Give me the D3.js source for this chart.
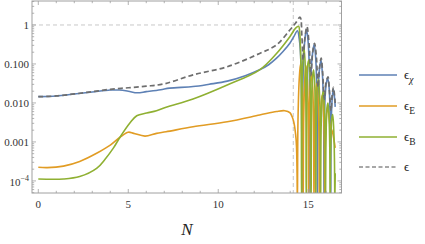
<!DOCTYPE html>
<html><head><meta charset="utf-8">
<script src="https://cdn.jsdelivr.net/npm/d3@7"></script>
<style>body{margin:0;background:#fff}svg{display:block}</style>
</head><body>
<svg id="c" width="425" height="244"></svg>
<script>
// ---- data ----
const chiN = [0,1,2,3,4,4.5,5,5.5,6,6.8,7.3,8.6,9.5,10.5,11.5,12.3,12.8,13.24,13.6,13.98,14.2,14.4,
  14.5,14.6,14.66,14.72,14.82,14.9,14.98,15.06,15.1,15.15,15.25,15.33,15.41,15.48,15.51,15.55,15.63,15.71,15.78,15.85,15.88,15.91,15.99,16.08,16.16,16.22,16.25,16.28,16.34,16.4,16.46,16.5];
const chiV = [0.0145,0.0151,0.0170,0.0191,0.0214,0.0214,0.0200,0.0182,0.0195,0.0219,0.0240,0.0263,0.0302,0.0363,0.0501,0.0708,0.0955,0.141,0.209,0.339,0.501,0.708,
  0.447,0.1,2.5e-5,0.0631,0.447,0.759,0.447,0.0794,2.5e-5,0.0501,0.2,0.316,0.158,0.02,2.5e-5,0.0158,0.0794,0.126,0.0631,0.00794,2.5e-5,0.00631,0.0282,0.0437,0.0251,0.00398,2.5e-5,0.00316,0.0141,0.0224,0.0141,0.00794];

const eN = [0,0.5,1.4,2.3,3.24,4.0,4.54,5.0,5.3,5.93,6.57,7.1,8.6,10.5,12.3,13.24,13.7,13.98,14.17,14.3,14.35,14.38,14.4,
  14.43,14.5,14.57,14.64,14.7,14.72,14.75,14.82,14.88,14.95,15.0,15.02,15.05,15.12,15.18,15.25,15.3,15.32,15.35,15.42,15.48,15.55,15.6,15.62,15.65,15.72,15.78,15.85,15.9,15.92,15.95,16.02,16.08,16.15,16.22,16.35,16.45,16.5];
const eV = [2.24e-4,2.19e-4,2.40e-4,3.16e-4,5.13e-4,8.32e-4,1.32e-3,1.78e-3,1.66e-3,1.41e-3,1.66e-3,1.82e-3,2.45e-3,3.31e-3,4.90e-3,6.03e-3,6.31e-3,5.62e-3,3.63e-3,1.58e-3,7.59e-4,1.58e-4,2.5e-5,
  3.16e-3,0.0398,0.1,0.0501,0.00398,2.5e-5,0.00398,0.0501,0.0891,0.0398,0.00316,2.5e-5,0.00316,0.0316,0.0562,0.0251,0.002,2.5e-5,0.002,0.02,0.0316,0.0126,0.00126,2.5e-5,0.00126,0.01,0.0158,0.00631,7.94e-4,2.5e-5,7.94e-4,0.00501,0.00794,0.00501,0.00251,0.00178,0.001,7.08e-4];

const bN = [0,1.4,2.3,3.24,3.7,4.17,4.54,5.1,5.47,6.02,6.57,7.1,8.6,10.5,12.3,13.24,13.98,14.3,14.47,
  14.52,14.57,14.61,14.63,14.66,14.72,14.77,14.83,14.87,14.89,14.92,14.98,15.04,15.1,15.14,15.16,15.19,15.25,15.3,15.36,15.4,15.42,15.45,15.52,15.57,15.63,15.67,15.69,15.72,15.79,15.84,15.9,15.94,15.96,15.99,16.05,16.1,16.16,16.2,16.22,16.25,16.31,16.36,16.42,16.46,16.48,16.5];
const bV = [1.12e-4,1.12e-4,1.29e-4,2.09e-4,3.55e-4,6.92e-4,1.32e-3,3.09e-3,4.68e-3,5.50e-3,6.31e-3,7.76e-3,0.0126,0.0288,0.0708,0.186,0.501,0.832,0.92,
  0.708,0.251,0.0316,2.5e-5,0.0316,0.158,0.251,0.1,0.01,2.5e-5,0.01,0.1,0.126,0.0501,0.00631,2.5e-5,0.00631,0.0501,0.0708,0.0316,0.00398,2.5e-5,0.00398,0.0316,0.0398,0.0158,0.00251,2.5e-5,0.00251,0.0158,0.02,0.00794,0.00126,2.5e-5,0.00126,0.00794,0.01,0.00398,6.31e-4,2.5e-5,6.31e-4,0.00398,0.00501,0.002,3.16e-4,2.5e-5,1.58e-4];

const totN = [0,1,2,3,4,5,6,7,8.6,10.5,12.3,13.24,13.98,14.3,14.55,
  14.65,14.72,14.8,14.93,15.05,15.15,15.25,15.35,15.45,15.55,15.63,15.72,15.8,15.9,15.98,16.1,16.18,16.27,16.33,16.4,16.45,16.5];
const totV = [0.0145,0.0151,0.0170,0.0195,0.0224,0.0245,0.0269,0.0309,0.0525,0.0851,0.186,0.309,0.741,1.12,1.58,
  0.501,0.126,0.398,0.912,0.316,0.0501,0.2,0.339,0.158,0.0251,0.0794,0.141,0.0631,0.0126,0.0316,0.0468,0.02,0.00631,0.0158,0.0251,0.0178,0.01];

const xTicks = [0,5,10,15];
const yTicks = [1e-4,1e-3,1e-2,1e-1,1];
const yTickLabels = ["10","0.001","0.010","0.100","1"];
const seriesNames = ["χ","E","B",""];
const seriesColors = ["#5E81B5","#E19C24","#8FB032","#6e6e6e"];
const refLineY = 1;
const refLineN = 14.17;

// ---- layout ----
const svg = d3.select("#c");
const L = 32, R = 341.5, T = 1, B = 193;
const x = d3.scaleLinear().domain([-0.35, 16.85]).range([L, R]);
const y = d3.scaleLog().domain([4.12, 4.9e-5]).range([T, B]);
const frameCol = "#a0a0a0";

svg.append("defs").append("clipPath").attr("id","clip")
  .append("rect").attr("x",L).attr("y",T).attr("width",R-L).attr("height",B-T);

// reference dashed lines
svg.append("line").attr("x1",L).attr("x2",R).attr("y1",y(refLineY)).attr("y2",y(refLineY))
  .attr("stroke","#c8c8c8").attr("stroke-width",1).attr("stroke-dasharray","4,3");
svg.append("line").attr("x1",x(refLineN)).attr("x2",x(refLineN)).attr("y1",T).attr("y2",B)
  .attr("stroke","#c8c8c8").attr("stroke-width",1).attr("stroke-dasharray","4,3");

// series
const line = d3.line().x(d=>x(d[0])).y(d=>y(d[1])).curve(d3.curveCatmullRom.alpha(0.5));
const g = svg.append("g").attr("clip-path","url(#clip)");
const series = [[chiN,chiV],[eN,eV],[bN,bV],[totN,totV]];
series.forEach((s,i)=>{
  const pts = s[0].map((n,k)=>[n,s[1][k]]);
  g.append("path").attr("d",line(pts)).attr("fill","none")
    .attr("stroke",seriesColors[i]).attr("stroke-width",i===3?1.7:1.6)
    .attr("stroke-dasharray",i===3?"5,3":null).attr("stroke-linejoin","round");
});

// frame
svg.append("rect").attr("x",L).attr("y",T).attr("width",R-L).attr("height",B-T)
  .attr("fill","none").attr("stroke",frameCol).attr("stroke-width",1);

// ticks
const tk = svg.append("g").attr("stroke",frameCol).attr("stroke-width",0.8);
d3.range(0,17).forEach(n=>{
  const len = xTicks.includes(n)?4:2.2;
  tk.append("line").attr("x1",x(n)).attr("x2",x(n)).attr("y1",B).attr("y2",B-len);
  tk.append("line").attr("x1",x(n)).attr("x2",x(n)).attr("y1",T).attr("y2",T+len);
});
[1e-5,1e-4,1e-3,1e-2,1e-1,1].forEach(dec=>{
  for(let m=1;m<10;m++){
    const v = dec*m;
    const yy = y(v);
    if(yy<T||yy>B) continue;
    const len = m===1?4:2.2;
    tk.append("line").attr("x1",L).attr("x2",L+len).attr("y1",yy).attr("y2",yy);
    tk.append("line").attr("x1",R).attr("x2",R-len).attr("y1",yy).attr("y2",yy);
  }
});

// tick labels
const font = "Liberation Serif, DejaVu Serif, serif";
const lab = svg.append("g").attr("font-family",font).attr("font-size",11).attr("fill","#333");
xTicks.forEach(n=>{
  lab.append("text").attr("x",x(n)).attr("y",208).attr("text-anchor","middle").text(n);
});
yTicks.forEach((v,i)=>{
  const t = lab.append("text").attr("x",29).attr("y",y(v)+4).attr("text-anchor","end");
  if(i===0){
    t.append("tspan").text(yTickLabels[i]);
    t.append("tspan").attr("dy",-5).attr("font-size",8).text("−4");
    t.attr("y",y(v)+5);
  } else t.text(yTickLabels[i]);
});

// axis label
svg.append("text").attr("x",187).attr("y",235).attr("text-anchor","middle")
  .attr("font-family",font).attr("font-style","italic").attr("font-size",17).attr("fill","#222").text("N");

// legend
const legY = [75,106,137,167];
const lg = svg.append("g");
seriesNames.forEach((nm,i)=>{
  lg.append("line").attr("x1",359).attr("x2",397).attr("y1",legY[i]).attr("y2",legY[i])
    .attr("stroke",i===3?"#8a8a8a":seriesColors[i]).attr("stroke-width",1.6)
    .attr("stroke-dasharray",i===3?"4,2.5":null);
  const t = lg.append("text").attr("x",404).attr("y",legY[i]+3.5)
    .attr("font-family",font).attr("font-size",13).attr("fill","#222");
  t.append("tspan").text("ϵ");
  if(nm){
    t.append("tspan").attr("dy",4).attr("font-size",9.5)
      .attr("font-style",nm==="χ"?"italic":"normal").text(nm);
  }
});
</script>
</body></html>
